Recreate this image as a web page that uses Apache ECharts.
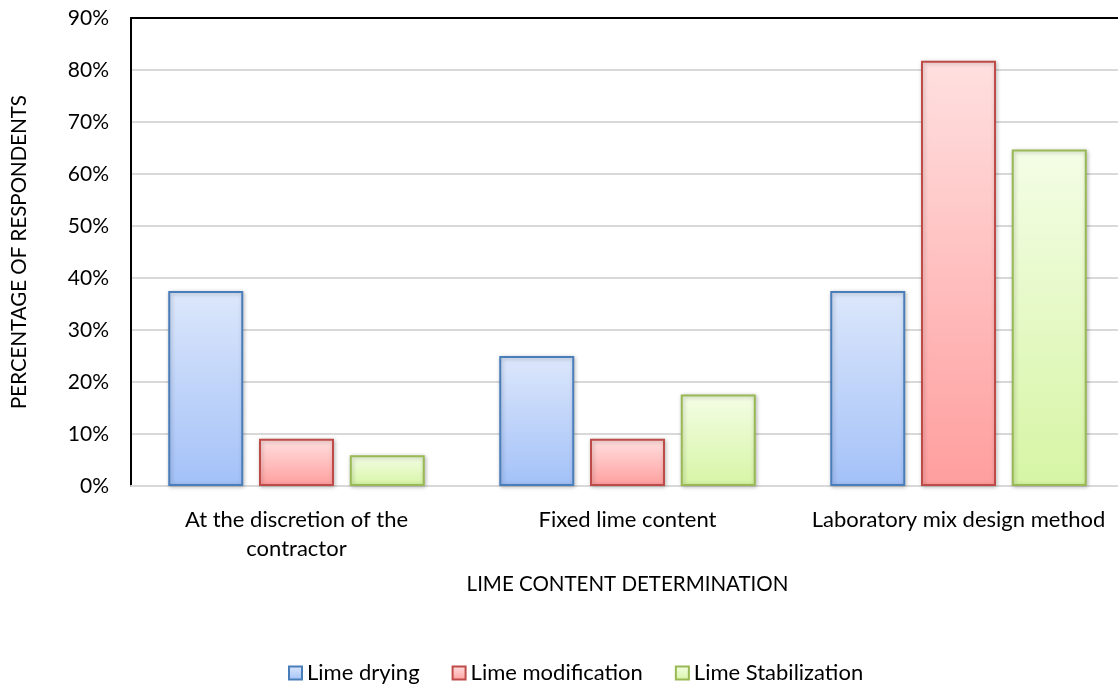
<!DOCTYPE html>
<html>
<head>
<meta charset="utf-8">
<script src="https://cdn.jsdelivr.net/npm/echarts@6/dist/echarts.min.js"></script>
<style>
  html, body { margin: 0; padding: 0; background: #fff; overflow: hidden; }
  #main { width: 1124px; height: 686px; }
</style>
</head>
<body>
<div id="main"></div>
<script>
// 数据
var categories = ['At the discretion of the\ncontractor', 'Fixed lime content', 'Laboratory mix design method'];
var limeDrying = [37.5, 25.0, 37.5];
var limeModification = [9.1, 9.1, 81.8];
var limeStabilization = [5.9, 17.6, 64.7];
var seriesNames = ['Lime drying', 'Lime modification', 'Lime Stabilization'];

function grad(top, bottom) {
  return new echarts.graphic.LinearGradient(0, 0, 0, 1, [
    { offset: 0, color: top },
    { offset: 1, color: bottom }
  ]);
}

function makeBar(name, data, top, bottom, border) {
  return {
    name: name,
    type: 'bar',
    data: data,
    barWidth: 75,
    barGap: '21%',
    itemStyle: {
      color: grad(top, bottom),
      borderColor: border,
      borderWidth: 2,
      shadowBlur: 4,
      shadowColor: 'rgba(0,0,0,0.25)',
      shadowOffsetX: 1,
      shadowOffsetY: 1
    }
  };
}

var chart = echarts.init(document.getElementById('main'));
var font = 'Lato, Open Sans, sans-serif';
var option = {
  animation: false,
  textStyle: { fontFamily: font, color: '#000' },
  grid: { left: 131, right: 0, top: 18, bottom: 200, outerBoundsMode: 'none', containLabel: false },
  legend: {
    bottom: -3,
    left: 283,
    icon: 'rect',
    itemWidth: 13,
    itemHeight: 13,
    itemGap: 32,
    textStyle: { fontSize: 22, fontFamily: font, color: '#000' },
    data: seriesNames
  },
  xAxis: [{
    type: 'category',
    data: categories,
    name: 'LIME CONTENT DETERMINATION',
    nameLocation: 'middle',
    nameGap: 88,
    nameTextStyle: { fontSize: 20.5, color: '#000' },
    axisLine: { show: true, lineStyle: { color: '#d9d9d9', width: 2 } },
    axisTick: { show: false },
    axisLabel: { fontSize: 22, color: '#000', margin: 19, lineHeight: 29, interval: 0 }
  }, {
    type: 'category',
    data: categories,
    position: 'top',
    axisLine: { show: true, lineStyle: { color: '#000', width: 2 } },
    axisTick: { show: false },
    axisLabel: { show: false }
  }],
  yAxis: {
    type: 'value',
    min: 0,
    max: 90,
    interval: 10,
    name: 'PERCENTAGE OF RESPONDENTS',
    nameLocation: 'middle',
    nameGap: 101,
    nameTextStyle: { fontSize: 20.5, color: '#000' },
    axisLine: { show: true, lineStyle: { color: '#000', width: 2 } },
    axisTick: { show: false },
    axisLabel: { formatter: '{value}%', fontSize: 21, color: '#000', margin: 22 },
    splitLine: { lineStyle: { color: '#d9d9d9', width: 2 } }
  },
  series: [
    makeBar(seriesNames[0], limeDrying, '#dce7fb', '#a3c1f8', '#4a7ebb'),
    makeBar(seriesNames[1], limeModification, '#ffe0e0', '#ff9e9e', '#be4b48'),
    makeBar(seriesNames[2], limeStabilization, '#f4fde6', '#d6f5a4', '#98b954')
  ]
};
chart.setOption(option);
</script>
</body>
</html>
